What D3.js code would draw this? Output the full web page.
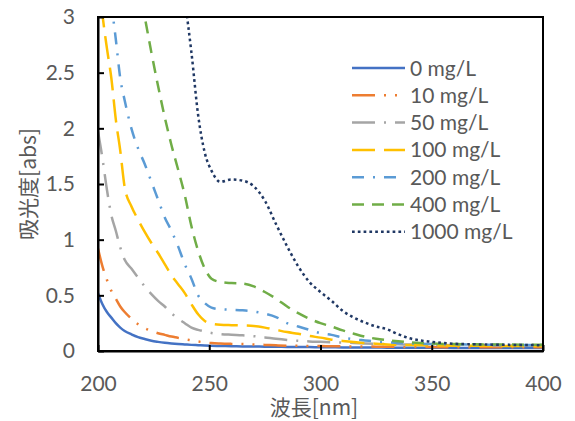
<!DOCTYPE html>
<html>
<head>
<meta charset="utf-8">
<script src="https://cdn.jsdelivr.net/npm/d3@7"></script>
<style>
  body { margin: 0; background: #fff; }
  text { font-family: Lato, "Noto Sans CJK JP", sans-serif; fill: #595959; }
</style>
</head>
<body>
<svg id="chart" width="575" height="421"></svg>
<script>
// wavelength grid (nm) shared by all series
const wavelength = [200,202,204,206,208,210,212,215,218,221,224,227,230,233,236,239,242,245,248,251,
    255,260,265,270,275,280,285,290,295,300,305,310,315,320,325,330,335,340,350,360,370,380,390,400];

// absorbance per concentration
const abs0 = [0.52,0.42,0.35,0.30,0.25,0.21,0.18,0.15,0.125,0.108,0.092,0.082,0.074,0.068,0.063,0.059,
    0.055,0.052,0.049,0.047,0.045,0.043,0.041,0.040,0.039,0.038,0.037,0.036,0.035,0.034,
    0.033,0.032,0.032,0.031,0.031,0.030,0.030,0.029,0.029,0.028,0.028,0.027,0.027,0.027];
const abs10 = [0.92,0.76,0.64,0.54,0.47,0.40,0.35,0.29,0.24,0.205,0.18,0.16,0.145,0.13,0.118,0.105,
    0.095,0.085,0.077,0.071,0.067,0.064,0.062,0.059,0.055,0.051,0.048,0.046,0.045,0.044,
    0.043,0.042,0.041,0.040,0.039,0.038,0.037,0.036,0.035,0.034,0.034,0.033,0.033,0.033];
const abs50 = [1.97,1.73,1.45,1.22,1.08,0.93,0.82,0.74,0.66,0.58,0.51,0.45,0.40,0.34,0.29,0.25,
    0.21,0.19,0.175,0.162,0.152,0.146,0.141,0.133,0.122,0.109,0.099,0.092,0.086,0.082,
    0.078,0.075,0.072,0.068,0.065,0.062,0.060,0.058,0.055,0.052,0.050,0.049,0.048,0.047];
const abs100 = [3.40,3.02,2.72,2.45,2.08,1.80,1.47,1.30,1.18,1.07,0.97,0.88,0.78,0.68,0.60,0.52,
    0.42,0.33,0.27,0.245,0.235,0.232,0.230,0.225,0.210,0.190,0.170,0.155,0.135,0.120,
    0.102,0.090,0.080,0.072,0.065,0.058,0.055,0.053,0.050,0.048,0.047,0.046,0.046,0.045];
const abs200 = [4.00,3.70,3.40,3.12,2.80,2.45,2.25,2.00,1.82,1.68,1.52,1.36,1.20,1.08,0.94,0.78,
    0.65,0.50,0.43,0.39,0.375,0.370,0.365,0.355,0.335,0.305,0.250,0.220,0.190,0.160,
    0.145,0.120,0.105,0.095,0.085,0.078,0.072,0.068,0.063,0.060,0.058,0.056,0.055,0.054];
const abs400 = [5.80,5.50,5.20,4.90,4.60,4.30,4.00,3.60,3.30,3.00,2.68,2.38,2.10,1.85,1.63,1.40,
    1.12,0.90,0.74,0.65,0.62,0.61,0.605,0.58,0.53,0.47,0.40,0.34,0.290,0.250,
    0.220,0.185,0.155,0.128,0.110,0.097,0.087,0.079,0.067,0.062,0.060,0.058,0.057,0.056];
const abs1000 = [9.0,8.7,8.4,8.1,7.8,7.5,7.2,6.8,6.3,5.8,5.3,4.8,4.3,3.9,3.5,3.15,
    2.68,2.12,1.78,1.62,1.52,1.54,1.53,1.48,1.35,1.14,0.94,0.76,0.62,0.53,
    0.45,0.36,0.30,0.255,0.22,0.195,0.15,0.115,0.082,0.065,0.060,0.056,0.054,0.052];

const seriesLabels = ["0 mg/L", "10 mg/L", "50 mg/L", "100 mg/L", "200 mg/L", "400 mg/L", "1000 mg/L"];
const seriesValues = [abs0, abs10, abs50, abs100, abs200, abs400, abs1000];

const xTicks = [200, 250, 300, 350, 400];
const yTicks = [0, 0.5, 1, 1.5, 2, 2.5, 3];

// line styles (Excel-like dash patterns)
const colors = ["#4472C4", "#ED7D31", "#A5A5A5", "#FFC000", "#5B9BD5", "#70AD47", "#203864"];
const dashes = ["none", "23 9 2 9 2 9", "23 9 2 9", "23 9", "12 9 2 9", "12 8", "2.7 3.1"];

const width = 575, height = 421;
const margin = { top: 17, right: 32, bottom: 70, left: 98 };
const svg = d3.select("#chart");

const x = d3.scaleLinear().domain([200, 400]).range([margin.left, width - margin.right]);
const y = d3.scaleLinear().domain([0, 3]).range([height - margin.bottom, margin.top]);

svg.append("defs").append("clipPath").attr("id", "plot-clip")
    .append("rect")
    .attr("x", margin.left).attr("y", margin.top)
    .attr("width", width - margin.left - margin.right)
    .attr("height", height - margin.top - margin.bottom);

// curves
const line = d3.line()
    .x((d, i) => x(wavelength[i]))
    .y(d => y(d))
    .curve(d3.curveMonotoneX);

svg.append("g").attr("clip-path", "url(#plot-clip)")
    .selectAll("path")
    .data(seriesValues)
    .join("path")
    .attr("fill", "none")
    .attr("stroke", (d, i) => colors[i])
    .attr("stroke-width", 2.5)
    .attr("stroke-dasharray", (d, i) => dashes[i])
    .attr("d", d => line(d));

// plot frame (left, top, right, bottom)
svg.append("rect")
    .attr("x", margin.left).attr("y", margin.top)
    .attr("width", width - margin.left - margin.right)
    .attr("height", height - margin.top - margin.bottom)
    .attr("fill", "none").attr("stroke", "#000").attr("stroke-width", 2);

// axes with inward ticks
svg.append("g")
    .attr("transform", `translate(0,${height - margin.bottom})`)
    .call(d3.axisBottom(x).tickValues(xTicks).tickSize(-6).tickPadding(25).tickSizeOuter(0))
    .call(g => g.select(".domain").attr("stroke", "#000").attr("stroke-width", 2))
    .call(g => g.selectAll(".tick line").attr("stroke", "#000").attr("stroke-width", 2))
    .call(g => g.selectAll(".tick text").attr("font-size", 21).attr("fill", "#595959")
        .attr("font-family", "Lato"));

svg.append("g")
    .attr("transform", `translate(${margin.left},0)`)
    .call(d3.axisLeft(y).tickValues(yTicks).tickFormat(d3.format("")).tickSize(-6).tickPadding(23).tickSizeOuter(0))
    .call(g => g.select(".domain").attr("stroke", "#000").attr("stroke-width", 2))
    .call(g => g.selectAll(".tick line").attr("stroke", "#000").attr("stroke-width", 2))
    .call(g => g.selectAll(".tick text").attr("font-size", 21).attr("fill", "#595959")
        .attr("font-family", "Lato"));

// axis titles
svg.append("text")
    .attr("x", 314).attr("y", 415)
    .attr("text-anchor", "middle")
    .attr("font-size", 21)
    .style("font-family", "'Noto Sans CJK JP', sans-serif")
    .text("波長[nm]");

svg.append("text")
    .attr("transform", `translate(36,${(margin.top + height - margin.bottom) / 2}) rotate(-90)`)
    .attr("text-anchor", "middle")
    .attr("font-size", 21)
    .style("font-family", "'Noto Sans CJK JP', sans-serif")
    .text("吸光度[abs]");

// legend
const legend = svg.append("g").attr("transform", "translate(352,68)");
const items = legend.selectAll("g")
    .data(seriesLabels)
    .join("g")
    .attr("transform", (d, i) => `translate(0,${i * 27.3})`);

items.append("line")
    .attr("x1", 0).attr("x2", 53)
    .attr("stroke", (d, i) => colors[i])
    .attr("stroke-width", 2.5)
    .attr("stroke-dasharray", (d, i) => dashes[i]);

items.append("text")
    .attr("x", 58).attr("dy", "0.36em")
    .attr("font-size", 21)
    .text(d => d);
</script>
</body>
</html>
